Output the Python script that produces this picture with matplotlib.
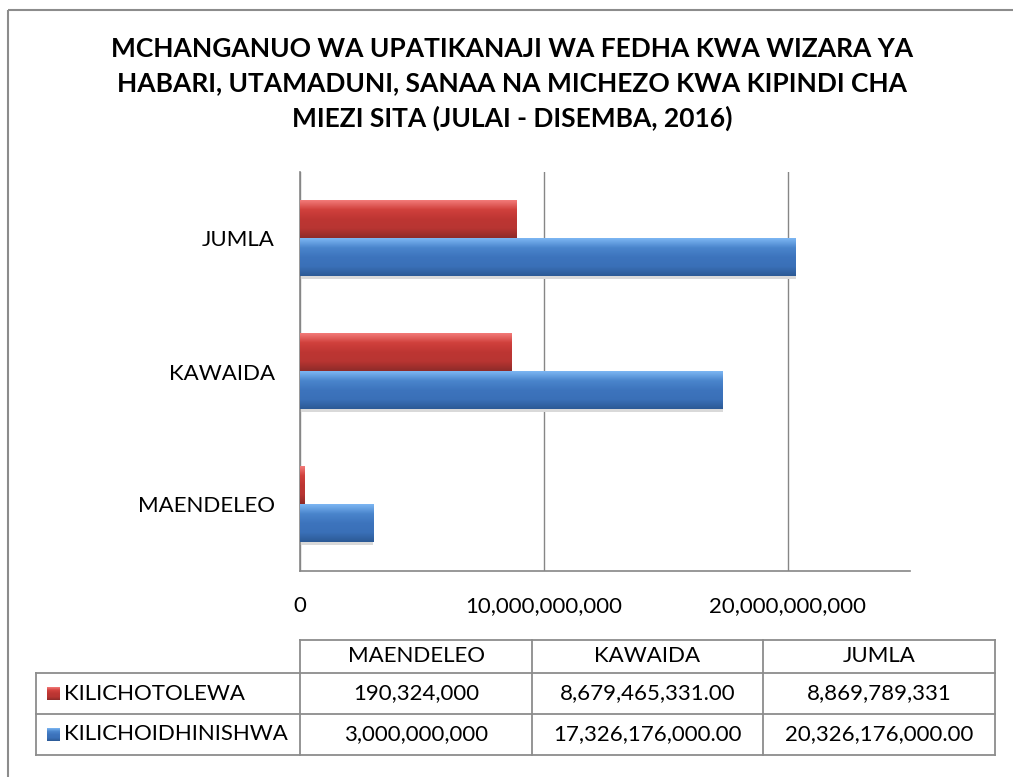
import numpy as np
import matplotlib.pyplot as plt
from matplotlib.patches import Rectangle
from matplotlib.colors import LinearSegmentedColormap

plt.rcParams['font.family'] = ['Lato', 'DejaVu Sans']

categories = ['MAENDELEO', 'KAWAIDA', 'JUMLA']
kilichotolewa = [190324000, 8679465331.00, 8869789331]
kilichoidhinishwa = [3000000000, 17326176000.00, 20326176000.00]
row_names = ['KILICHOTOLEWA', 'KILICHOIDHINISHWA']
cell_text = [['190,324,000', '8,679,465,331.00', '8,869,789,331'],
             ['3,000,000,000', '17,326,176,000.00', '20,326,176,000.00']]
tick_vals = [0, 10000000000, 20000000000]
tick_labels = ['0', '10,000,000,000', '20,000,000,000']
title = ('MCHANGANUO WA UPATIKANAJI WA FEDHA KWA WIZARA YA\n'
         'HABARI, UTAMADUNI, SANAA NA MICHEZO KWA KIPINDI CHA\n'
         'MIEZI SITA (JULAI - DISEMBA, 2016)')

W, H = 1013, 777
fs = 16
fig = plt.figure(figsize=(W / 100, H / 100), dpi=100)

red_cm = LinearSegmentedColormap.from_list('r', ['#f27a78', '#d0403c', '#bd3633', '#b83532', '#8e2b29'])
blue_cm = LinearSegmentedColormap.from_list('b', ['#7cb6f2', '#4a85cc', '#3d74bd', '#3a70b8', '#2c5a96'])
grad = np.linspace(0, 1, 64).reshape(-1, 1)

# main plot area
ax = fig.add_axes([300 / W, 1 - 571 / H, 610 / W, 399 / H])
y = np.arange(len(categories))
h = 0.285
red_bars = ax.barh(y + h / 2, kilichotolewa, height=h, color='#c0392f', zorder=3)
blue_bars = ax.barh(y - h / 2, kilichoidhinishwa, height=h, color='#3e74bd', zorder=3)
for bars, cm in [(red_bars, red_cm), (blue_bars, blue_cm)]:
    for b in bars:
        x0, y0, bw, bh = b.get_x(), b.get_y(), b.get_width(), b.get_height()
        ax.imshow(grad, cmap=cm, aspect='auto', zorder=4,
                  extent=[x0, x0 + bw, y0, y0 + bh], origin='upper')
        ax.add_patch(Rectangle((x0, y0 - 0.02), bw, 0.02, color='#d9d9d9', zorder=2, lw=0))

ax.set_xlim(0, 25000000000)
ax.set_ylim(-0.5, 2.5)
ax.set_xticks(tick_vals)
ax.set_xticklabels(tick_labels, fontsize=fs)
ax.set_yticks(y)
ax.set_yticklabels(categories, fontsize=fs)
ax.tick_params(axis='x', length=0, pad=18)
ax.tick_params(axis='y', length=0, pad=18)
ax.grid(axis='x', color='#868686', lw=1, zorder=0)
for s in ['top', 'right']:
    ax.spines[s].set_visible(False)
for s in ['left', 'bottom']:
    ax.spines[s].set_color('#868686')
    ax.spines[s].set_linewidth(1.2)
ax.set_axisbelow(True)

fig.text(512 / W, 1 - 37 / H, title, ha='center', va='top', fontsize=19,
         fontweight='bold', linespacing=1.5)

# data table and outer frame, drawn in pixel coordinates
tax = fig.add_axes([0, 0, 1, 1])
tax.set_xlim(0, W)
tax.set_ylim(H, 0)
tax.axis('off')
tax.add_patch(Rectangle((8, 10), W + 20, H + 20, fill=False, ec='#8c8c8c', lw=1.5))

col_x = [300, 532, 763, 995]
row_y = [640, 673, 714, 755]
lc = '#8c8c8c'
tax.plot([300, 995], [640, 640], color=lc, lw=1.3)
for yy in row_y[1:]:
    tax.plot([36, 995], [yy, yy], color=lc, lw=1.3)
tax.plot([36, 36], [673, 755], color=lc, lw=1.3)
for xx in col_x:
    tax.plot([xx, xx], [640, 755], color=lc, lw=1.3)
for j, cat in enumerate(categories):
    cx = (col_x[j] + col_x[j + 1]) / 2
    tax.text(cx, (row_y[0] + row_y[1]) / 2, cat, ha='center', va='center', fontsize=fs)
    for i in range(2):
        tax.text(cx, (row_y[i + 1] + row_y[i + 2]) / 2, cell_text[i][j],
                 ha='center', va='center', fontsize=fs)
for i, (name, cm) in enumerate(zip(row_names, [red_cm, blue_cm])):
    yc = (row_y[i + 1] + row_y[i + 2]) / 2
    tax.imshow(grad, cmap=cm, aspect='auto', extent=[47, 60, yc + 6.5, yc - 6.5], zorder=3)
    tax.text(64, yc, name, ha='left', va='center', fontsize=fs)
tax.set_xlim(0, W)
tax.set_ylim(H, 0)

fig.savefig('out.png', dpi=100)
